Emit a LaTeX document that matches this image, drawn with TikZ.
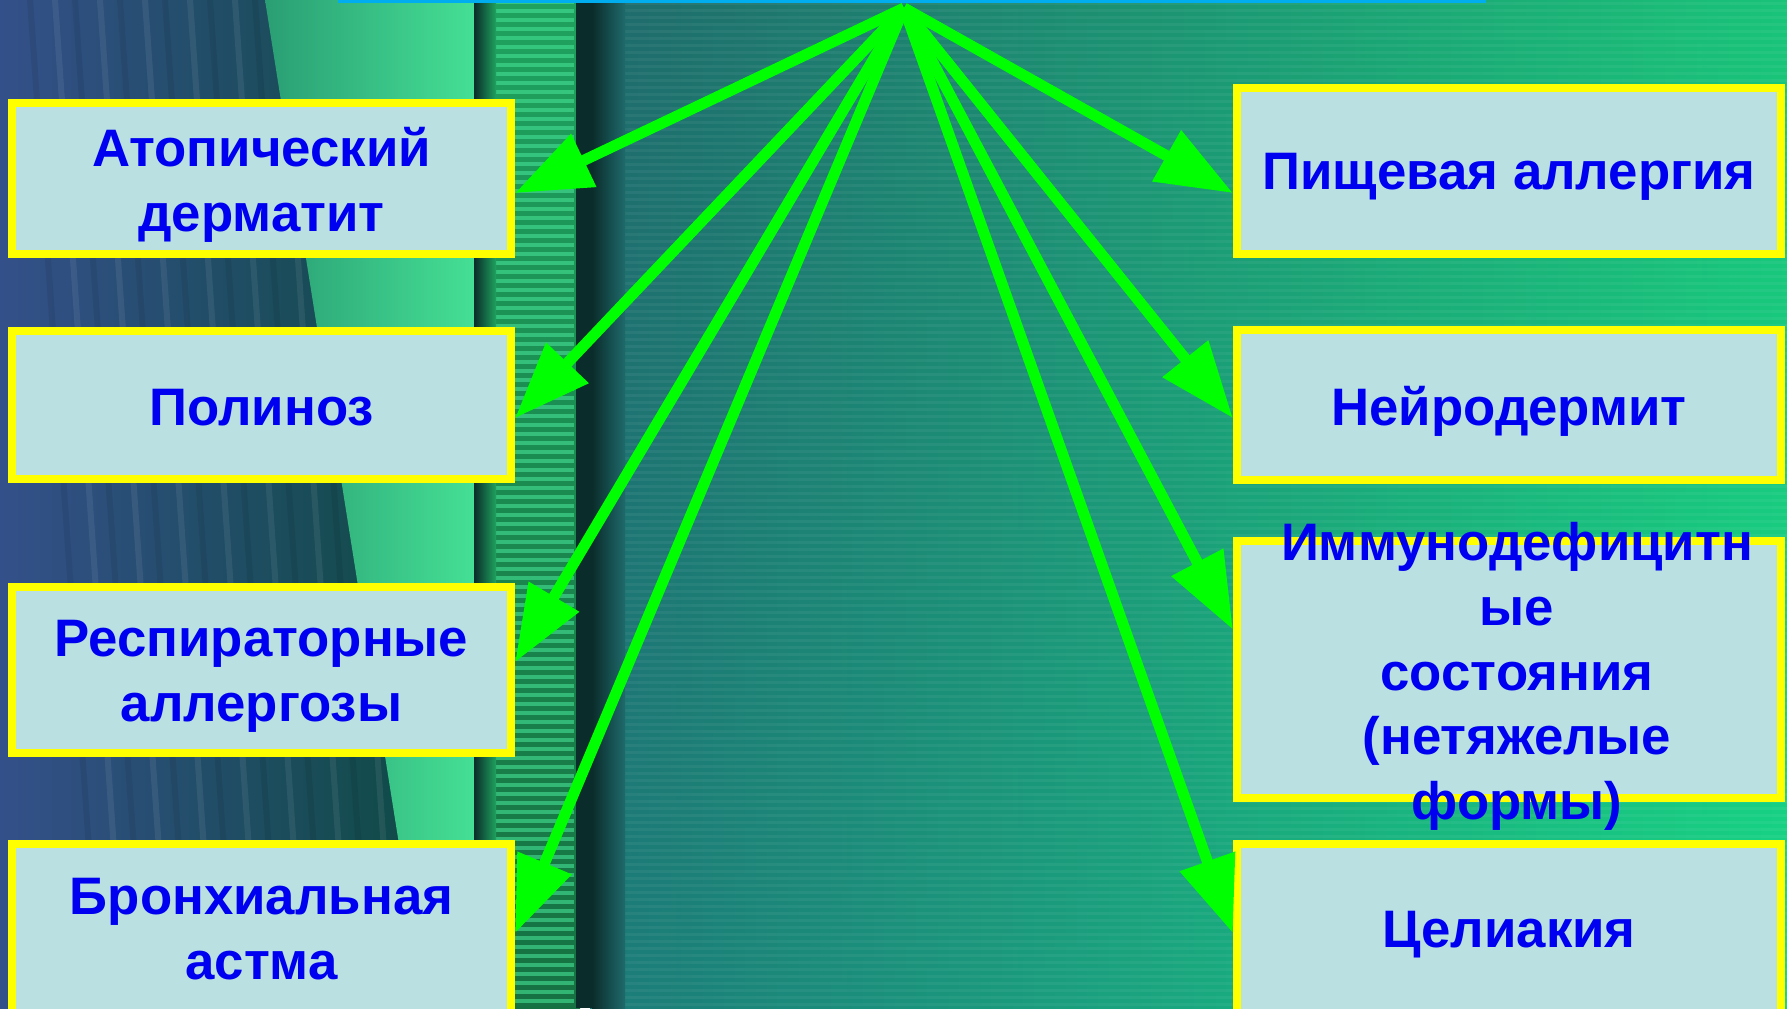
\documentclass[tikz,border=0pt]{standalone}
\usepackage{fontspec}
\setmainfont{Liberation Sans}
\usetikzlibrary{arrows.meta}

\definecolor{boxfill}{HTML}{BAE0E2}
\definecolor{boxline}{HTML}{FFFF00}
\definecolor{txtblue}{HTML}{0000F0}
\definecolor{arrgreen}{HTML}{00FF00}
\definecolor{bgnavy}{HTML}{34508A}
\definecolor{bgdark}{HTML}{0A4A3C}
\definecolor{bgband}{HTML}{2A9E74}
\definecolor{bgglow}{HTML}{45E095}
\definecolor{bgstrip}{HTML}{1FA25E}
\definecolor{bgshadow}{HTML}{0A2C2A}
\definecolor{bgteal}{HTML}{1F6A6C}
\definecolor{bgmid}{HTML}{1E9475}
\definecolor{bggreen}{HTML}{18DA7C}

\begin{document}
\begin{tikzpicture}[x=0.01cm, y=-0.01cm,
    txt/.style={text=txtblue, font=\fontsize{15}{18.4}\selectfont\bfseries, align=center, inner sep=0pt},
    box/.style={draw=boxline, line width=0.08cm, fill=boxfill, inner sep=0pt},
    arr/.style={draw=arrgreen, line width=0.11cm, -{Triangle[length=0.76cm, width=0.56cm]}},
    scan/.style={white, opacity=0.05, line width=0.03cm},
    glow/.style={bgglow, opacity=0.6, line width=0.04cm},
    streak/.style={line width=0.06cm, opacity=0.07}]
    \useasboundingbox (0,0) rectangle (1787,1008);
    \clip (0,0) rectangle (1787,1008);

    % background
    \shade[left color=bgteal, middle color=bgmid, right color=bggreen] (590,0) rectangle (1787,1008);
    \shade[top color=bgteal, bottom color=cyan!40!bgmid, opacity=0.2] (590,0) rectangle (1787,1008);
    \foreach \y in {3,10,...,1008} \draw[scan] (600,\y) -- (1787,\y);

    \shade[left color=bgnavy, right color=bgdark] (0,0) rectangle (480,1008);
    \foreach \x in {30,75,...,400} \draw[streak, black] (\x,0) -- (\x+70,1008);
    \foreach \x in {55,100,...,420} \draw[streak, white] (\x,0) -- (\x+70,1008);
    \shade[left color=bgband, right color=bgglow] (265,0) -- (476,0) -- (476,1008) -- (425,1008) -- cycle;

    \shade[top color=bgstrip, bottom color=bgstrip!70!black] (476,0) rectangle (580,1008);
    \foreach \y in {2,11,...,1008} \draw[glow] (492,\y) -- (574,\y);
    \shade[left color=bgshadow, right color=bgstrip] (474,0) rectangle (496,1008);
    \fill[bgshadow] (576,0) rectangle (592,1008);
    \shade[left color=bgshadow, right color=bgteal] (592,0) rectangle (625,1008);
    \draw[cyan, line width=0.03cm] (338,1) -- (1486,1);

    % boxes
    \node[box, minimum width=4.99cm, minimum height=1.51cm] (l1) at (261.5,178.5) {};
    \node[box, minimum width=4.99cm, minimum height=1.48cm] (l2) at (261.5,405) {};
    \node[box, minimum width=4.99cm, minimum height=1.66cm] (l3) at (261.5,670) {};
    \node[box, minimum width=4.99cm, minimum height=1.70cm] (l4) at (261.5,929) {};

    \node[box, minimum width=5.44cm, minimum height=1.66cm] (r1) at (1509,171) {};
    \node[box, minimum width=5.44cm, minimum height=1.50cm] (r2) at (1509,405) {};
    \node[box, minimum width=5.44cm, minimum height=2.57cm] (r3) at (1509,669.5) {};
    \node[box, minimum width=5.44cm, minimum height=1.70cm] (r4) at (1509,929) {};

    % texts
    \node[txt] (l1t) at ([yshift=-0.06cm]l1) {Атопический\\дерматит};
    \node[txt] (l2t) at ([yshift=-0.03cm]l2) {Полиноз};
    \node[txt] (l3t) at ([yshift=-0.06cm]l3) {Респираторные\\аллергозы};
    \node[txt] (l4t) at (l4) {Бронхиальная\\астма};
    \node[txt] (r1t) at ([yshift=-0.06cm]r1) {Пищевая аллергия};
    \node[txt] (r2t) at ([yshift=-0.06cm]r2) {Нейродермит};
    \node[txt] (r3t) at ([xshift=0.08cm, yshift=-0.07cm]r3) {Иммунодефицитн\\ые\\состояния\\(нетяжелые\\формы)};
    \node[txt] (r4t) at ([yshift=-0.06cm]r4) {Целиакия};

    \coordinate (top) at (904,8);

    \draw[arr] (top) -- ([yshift=-0.145cm]l1.east);
    \draw[arr] (top) -- ([yshift=-0.13cm]l2.east);
    \draw[arr] (top) -- ([yshift=0.08cm]l3.east);
    \draw[arr] (top) -- ([yshift=-0.04cm]l4.east);

    \draw[arr] (top) -- ([yshift=-0.22cm]r1.west);
    \draw[arr] (top) -- ([yshift=-0.13cm]r2.west);
    \draw[arr] (top) -- ([yshift=0.4cm]r3.west);
    \draw[arr] (top) -- ([yshift=-0.04cm]r4.west);
\end{tikzpicture}
\end{document}
